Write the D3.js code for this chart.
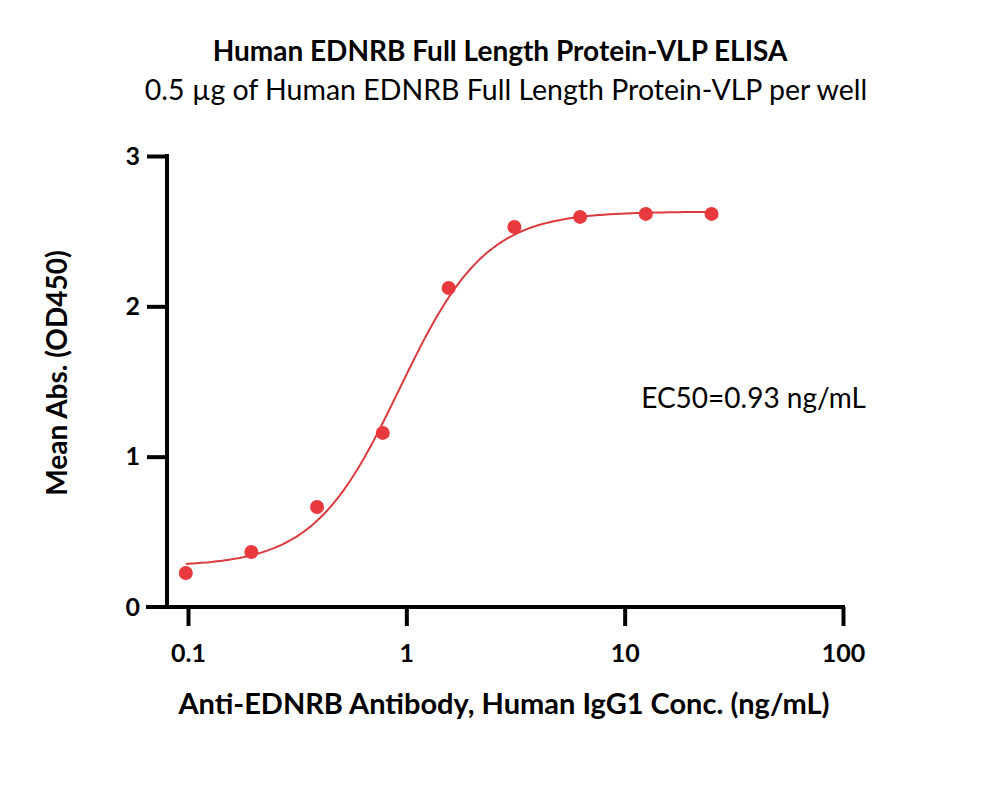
<!DOCTYPE html>
<html>
<head>
  <meta charset="utf-8">
  <title>EDNRB ELISA</title>
  <script src="https://cdn.jsdelivr.net/npm/d3@7"></script>
  <style>
    body { margin: 0; background: #fff; }
    text { font-family: Lato, "Open Sans", sans-serif; fill: #000; }
    .tick text { font-weight: bold; font-size: 25px; }
    .axis path, .axis line { stroke: #000; stroke-width: 4; }
  </style>
</head>
<body>
<script>
  // data
  var conc = [0.0977, 0.195, 0.39, 0.78, 1.5625, 3.125, 6.25, 12.5, 25];
  var absorb = [0.226, 0.366, 0.665, 1.158, 2.122, 2.528, 2.595, 2.615, 2.615];
  var xTicks = [0.1, 1, 10, 100];
  var xTickLabels = ["0.1", "1", "10", "100"];
  var yTicks = [0, 1, 2, 3];

  // 4PL fit parameters (bottom, top, EC50, hill)
  var fitBottom = 0.27, fitTop = 2.63, fitEC50 = 0.93, fitHill = 2.2;

  var w = 1000, h = 793;
  var red = "#e8393e";

  var svg = d3.select("body").append("svg")
    .attr("width", w)
    .attr("height", h);

  var xScale = d3.scaleLog().domain([0.1, 100]).range([188, 843]);
  var yScale = d3.scaleLinear().domain([0, 3]).range([607, 156]);
  var yAxisX = 167;

  // x axis
  var xAxis = d3.axisBottom(xScale)
    .tickValues(xTicks)
    .tickFormat(function (d, i) { return xTickLabels[i]; })
    .tickSize(19)
    .tickSizeOuter(0)
    .tickPadding(18);

  var gx = svg.append("g")
    .attr("class", "axis")
    .attr("transform", "translate(0," + yScale(0) + ")")
    .call(xAxis);
  gx.select(".domain").remove();
  gx.append("line")
    .attr("x1", yAxisX - 21).attr("x2", xScale(100) + 2)
    .attr("y1", 0).attr("y2", 0)
    .attr("stroke", "#000").attr("stroke-width", 4);

  // y axis
  var yAxis = d3.axisLeft(yScale)
    .tickValues(yTicks)
    .tickFormat(d3.format("d"))
    .tickSize(20)
    .tickSizeOuter(0)
    .tickPadding(7);

  var gy = svg.append("g")
    .attr("class", "axis")
    .attr("transform", "translate(" + yAxisX + ",0)")
    .call(yAxis);
  gy.select(".domain").remove();
  gy.append("line")
    .attr("x1", 0).attr("x2", 0)
    .attr("y1", yScale(3) - 2).attr("y2", yScale(0))
    .attr("stroke", "#000").attr("stroke-width", 4);
  gy.selectAll(".tick").filter(function (d) { return d === 0; }).select("line").remove();

  // fitted curve
  function fourPL(x) {
    return fitBottom + (fitTop - fitBottom) / (1 + Math.pow(fitEC50 / x, fitHill));
  }
  var lo = Math.log10(conc[0]), hi = Math.log10(conc[conc.length - 1]);
  var curveX = d3.range(0, 201).map(function (i) {
    return Math.pow(10, lo + i / 200 * (hi - lo));
  });

  var lineFun = d3.line()
    .x(function (d) { return xScale(d); })
    .y(function (d) { return yScale(fourPL(d)); });

  svg.append("path")
    .datum(curveX)
    .attr("d", lineFun)
    .attr("fill", "none")
    .attr("stroke", "#dc3a3e")
    .attr("stroke-width", 2);

  // points
  svg.selectAll("circle.pt")
    .data(conc)
    .enter().append("circle")
    .attr("class", "pt")
    .attr("cx", function (d) { return xScale(d); })
    .attr("cy", function (d, i) { return yScale(absorb[i]); })
    .attr("r", 7)
    .attr("fill", red);

  // titles
  svg.append("text")
    .attr("x", 500).attr("y", 61)
    .attr("text-anchor", "middle")
    .style("font-weight", "bold").style("font-size", "28px")
    .text("Human EDNRB Full Length Protein-VLP ELISA");

  svg.append("text")
    .attr("x", 506).attr("y", 100)
    .attr("text-anchor", "middle")
    .style("font-size", "28.5px")
    .text("0.5 µg of Human EDNRB Full Length Protein-VLP per well");

  svg.append("text")
    .attr("x", 504).attr("y", 714)
    .attr("text-anchor", "middle")
    .style("font-weight", "bold").style("font-size", "29px")
    .text("Anti-EDNRB Antibody, Human IgG1 Conc. (ng/mL)");

  svg.append("text")
    .attr("transform", "translate(67,373) rotate(-90)")
    .attr("text-anchor", "middle")
    .style("font-weight", "bold").style("font-size", "28px")
    .text("Mean Abs. (OD450)");

  svg.append("text")
    .attr("x", 866).attr("y", 408)
    .attr("text-anchor", "end")
    .style("font-size", "28px")
    .text("EC50=0.93 ng/mL");
</script>
</body>
</html>
